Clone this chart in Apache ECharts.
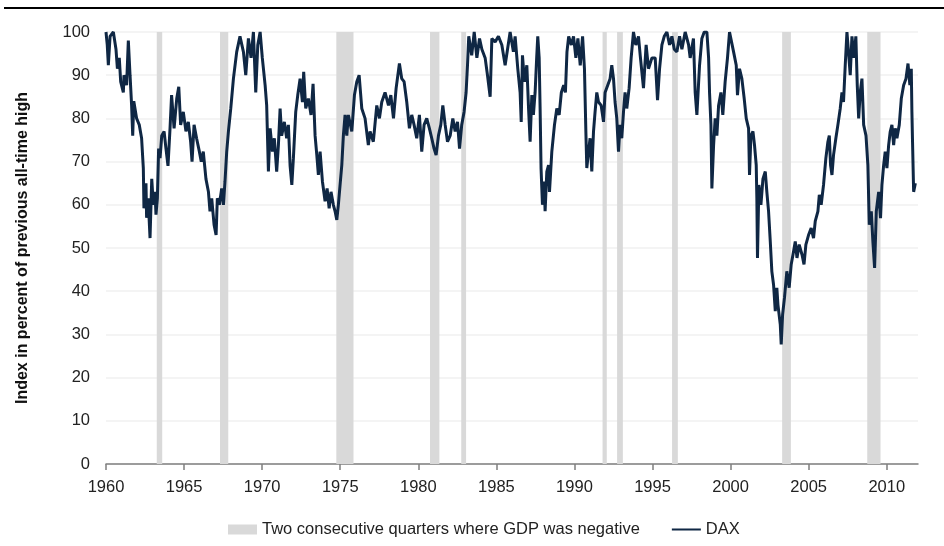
<html>
<head>
    <meta charset="utf-8">
    <script src="https://cdn.jsdelivr.net/npm/echarts@6/dist/echarts.min.js"></script>
</head>
<body style="margin:0">
<div id="main" style="width:944px;height:546px"></div>
<script>
    // DAX, index in percent of previous all-time high
    var daxYear = [
        1960.00, 1960.08, 1960.15, 1960.26, 1960.47, 1960.64, 1960.73, 1960.85, 1960.94, 1961.11,
        1961.15, 1961.32, 1961.43, 1961.54, 1961.64, 1961.71, 1961.78, 1961.96, 1962.13, 1962.28,
        1962.39, 1962.43, 1962.56, 1962.60, 1962.70, 1962.82, 1962.93, 1963.03, 1963.14, 1963.20,
        1963.29, 1963.37, 1963.46, 1963.57, 1963.72, 1963.84, 1963.97, 1964.10, 1964.20, 1964.36,
        1964.53, 1964.66, 1964.78, 1964.95, 1965.12, 1965.27, 1965.42, 1965.51, 1965.64, 1965.80,
        1965.98, 1966.10, 1966.23, 1966.40, 1966.56, 1966.66, 1966.77, 1966.92, 1967.05, 1967.13,
        1967.26, 1967.41, 1967.52, 1967.62, 1967.73, 1967.84, 1967.99, 1968.16, 1968.37,
        1968.58, 1968.80, 1968.95, 1969.12, 1969.29, 1969.44, 1969.59, 1969.72, 1969.87, 1970.01,
        1970.19, 1970.29, 1970.40, 1970.51, 1970.66, 1970.78, 1970.93, 1971.04, 1971.15, 1971.25,
        1971.42, 1971.57, 1971.68, 1971.79, 1971.90, 1972.00, 1972.15, 1972.28, 1972.43, 1972.58,
        1972.66, 1972.79, 1972.96, 1973.13, 1973.26, 1973.39, 1973.50, 1973.60, 1973.71, 1973.86,
        1974.03, 1974.16, 1974.29, 1974.41, 1974.56, 1974.67, 1974.78, 1974.88, 1974.99, 1975.10,
        1975.20, 1975.31, 1975.42, 1975.52, 1975.74, 1975.91, 1976.06, 1976.21, 1976.38, 1976.59,
        1976.80,
        1976.91, 1977.12, 1977.34, 1977.51, 1977.66, 1977.87, 1978.09, 1978.24, 1978.41, 1978.58,
        1978.79, 1978.94, 1979.09, 1979.26, 1979.43, 1979.58, 1979.73, 1979.90, 1980.07, 1980.22,
        1980.37, 1980.54, 1980.71, 1980.86, 1981.01, 1981.14, 1981.29, 1981.44, 1981.57, 1981.72,
        1981.87, 1982.04, 1982.21, 1982.36, 1982.51, 1982.64, 1982.78, 1982.93, 1983.06, 1983.15,
        1983.23, 1983.42, 1983.58, 1983.75, 1983.92, 1984.07, 1984.28, 1984.43, 1984.60, 1984.71,
        1984.92, 1985.13, 1985.35, 1985.56,
        1985.88, 1986.09, 1986.20, 1986.37, 1986.52, 1986.59, 1986.67, 1986.80, 1986.95, 1987.06,
        1987.16, 1987.27, 1987.37, 1987.48, 1987.58, 1987.65, 1987.74, 1987.80, 1987.86, 1987.95,
        1988.06, 1988.12, 1988.23, 1988.34, 1988.40, 1988.55, 1988.72, 1988.87, 1989.02, 1989.16,
        1989.31, 1989.42, 1989.52, 1989.63, 1989.80, 1989.94, 1990.09, 1990.22, 1990.37, 1990.52,
        1990.64, 1990.73, 1990.79, 1990.90, 1991.00, 1991.11, 1991.22, 1991.32, 1991.43, 1991.54,
        1991.71, 1991.86, 1991.96, 1992.13, 1992.28, 1992.39, 1992.50, 1992.60, 1992.71, 1992.82,
        1992.92, 1993.03, 1993.14, 1993.24, 1993.35, 1993.50, 1993.63, 1993.78, 1993.93, 1994.10,
        1994.21, 1994.42, 1994.59, 1994.74, 1994.96, 1995.17, 1995.32, 1995.45, 1995.60, 1995.75,
        1995.92, 1996.09, 1996.24, 1996.39, 1996.56, 1996.73, 1996.88, 1997.09, 1997.31, 1997.41,
        1997.62, 1997.73, 1997.84, 1998.01, 1998.16, 1998.31, 1998.48, 1998.59, 1998.65, 1998.74,
        1998.80, 1998.91, 1999.01, 1999.12, 1999.23, 1999.38, 1999.50, 1999.65, 1999.80, 1999.93,
        2000.02, 2000.19, 2000.36, 2000.44, 2000.57, 2000.72, 2000.87, 2001.00, 2001.15, 2001.21,
        2001.30, 2001.43, 2001.53, 2001.64, 2001.68, 2001.72, 2001.81, 2001.94, 2002.07, 2002.22,
        2002.32, 2002.43, 2002.54, 2002.64, 2002.75, 2002.86, 2002.96,
        2003.03, 2003.18, 2003.24, 2003.33, 2003.45, 2003.60, 2003.75, 2003.88, 2004.03, 2004.14,
        2004.25, 2004.39, 2004.57, 2004.70, 2004.82, 2004.99, 2005.16, 2005.31, 2005.42, 2005.59,
        2005.68, 2005.80, 2005.95, 2006.10, 2006.23, 2006.32, 2006.40, 2006.49, 2006.59, 2006.74,
        2006.87, 2007.02, 2007.13, 2007.23, 2007.34, 2007.45, 2007.55, 2007.66, 2007.77, 2007.90,
        2008.02, 2008.11, 2008.20, 2008.30, 2008.41, 2008.52, 2008.67, 2008.79, 2008.88, 2009.01,
        2009.11, 2009.22, 2009.33, 2009.48, 2009.60, 2009.69, 2009.80, 2009.90, 2010.01, 2010.12,
        2010.22, 2010.33, 2010.44, 2010.54, 2010.65, 2010.80, 2010.93, 2011.08, 2011.23, 2011.36,
        2011.48, 2011.57, 2011.61, 2011.65, 2011.72, 2011.83
    ];
    var daxValue = [
        100, 97, 92.3, 99, 100, 96, 91.5, 94, 88.5, 86,
        90, 87.7, 98, 90, 83, 76, 84, 80, 78.5, 75.4,
        68.5, 59.2, 65, 57, 61.5, 52.3, 66, 60, 63, 57.7,
        61.5, 73, 70.8, 76, 77, 73, 69, 77.7, 85.4, 77.7,
        84.6, 87.3, 78.5, 81.5, 77, 79.2, 74.6, 70, 78.5, 75.4,
        72.3, 70, 72.3, 66, 63, 58.5, 61.5, 55.4, 53, 61.5,
        60, 63.8, 60, 65.4, 72.3, 77, 82.3, 89.2, 95.4,
        99, 95.4, 90, 98.5, 94, 100, 86, 97, 100, 94,
        87.7, 83, 67.7, 77.7, 72.3, 75.4, 67.7, 73.8, 82.3, 76,
        79.2, 75.4, 78.5, 69, 64.6, 70.8, 81.5, 85.4, 89.2, 83.8,
        90.8, 82.3, 84.6, 80.8, 88, 76, 71.5, 66.9, 72.3, 65.4,
        60.8, 63.8, 59.2, 63, 60, 58.5, 56.5, 60, 64.6, 69.2,
        76, 80.8, 76, 80.8, 77, 85.4, 88.5, 90, 82.3, 80,
        73.8,
        77, 74.6, 83, 80, 83.8, 86, 83, 85.4, 80, 87,
        92.7, 89.2, 88.5, 83.8, 77.7, 80.8, 78.5, 75.4, 80.8, 72.3,
        78.5, 80, 77.7, 75.4, 73, 71.5, 76, 78.5, 83, 78.5,
        74.6, 76, 80, 77, 79.2, 73, 78.5, 81.5, 86, 92.3,
        99, 94.6, 100, 94, 98.5, 96, 94, 90, 85, 98.5,
        97.7, 99, 97, 92.3,
        100, 95.4, 99, 91.5, 86, 79.2, 94.6, 88.5, 92.3, 82.3,
        74.6, 85.4, 80.8, 86, 94, 99, 94, 82.3, 68.5, 60,
        65.4, 58.5, 67.7, 69.2, 63, 72.3, 78.5, 82.3, 80.8, 86,
        87.7, 86, 95.4, 99, 97, 99, 94, 98.5, 92.3, 99,
        91.5, 77, 68.5, 72.3, 75.4, 67.7, 77, 81.5, 86, 83.8,
        83, 79.2, 86, 87.7, 89.2, 92.3, 89.2, 83.8, 80, 72.3,
        78.5, 75.4, 81.5, 86, 82.3, 87, 94, 100, 97, 99,
        94.6, 87, 97, 91.5, 94, 94, 84.2, 91.5, 97, 99,
        100, 97, 99, 96, 95.4, 99, 96, 100, 97, 94,
        98.5, 86, 80.8, 92.3, 98.5, 100, 100, 94, 86, 78.5,
        63.8, 73.8, 80, 76, 83, 86, 80.8, 88.5, 94, 100,
        100, 95.4, 92.3, 85.4, 91.5, 89.2, 84.6, 80, 77.7, 66.9,
        76, 77, 73.8, 69.2, 61.5, 47.7, 64.6, 60, 66, 67.7,
        63, 58.5, 51.5, 44.6, 41.5, 35.4, 40.8,
        36.9, 32.3, 27.7, 34.6, 38.5, 44.6, 40.8, 46.2, 49.2, 51.5,
        47.7, 50.8, 48.5, 46.2, 50.8, 53, 54.6, 52.3, 56.2, 58.5,
        62.3, 60, 64.6, 70.8, 74.6, 76, 69.2, 66.9, 71.5, 75.4,
        78.5, 82.3, 86, 83.8, 92.3, 100, 95.4, 90, 99, 94,
        99, 87.7, 80, 86, 89.2, 78.5, 76, 69.2, 55.4, 58.5,
        51.5, 45.4, 58.5, 63, 56.9, 64.6, 69.2, 72.3, 68.5, 73.8,
        76.9, 78.5, 73.8, 77.7, 75.4, 78.5, 84.6, 87.7, 89.2, 92.7,
        87.7, 91.5, 81.5, 74.6, 63, 65
    ];

    // two consecutive quarters of negative GDP growth
    var recessionStart = [1963.25, 1967.3, 1974.75, 1980.75, 1982.75, 1991.8, 1992.73, 1996.25, 2003.3, 2008.75];
    var recessionEnd = [1963.6, 1967.83, 1975.85, 1981.35, 1983.06, 1992.07, 1993.1, 1996.62, 2003.86, 2009.6];

    var recessionName = 'Two consecutive quarters where GDP was negative';
    var font = '"Liberation Sans", Arial, sans-serif';
    var navy = '#0f2744';

    var chart = echarts.init(document.getElementById('main'));

    var daxData = [];
    for (var i = 0; i < daxYear.length; i++) {
        daxData.push([daxYear[i], daxValue[i]]);
    }

    var areas = [];
    for (var j = 0; j < recessionStart.length; j++) {
        areas.push([{xAxis: recessionStart[j]}, {xAxis: recessionEnd[j]}]);
    }

    var option = {
        animation: false,
        textStyle: {fontFamily: font},
        graphic: [{
            type: 'rect',
            shape: {x: 4, y: 7, width: 940, height: 2},
            style: {fill: '#000'}
        }],
        grid: {
            left: 106,
            right: 26,
            top: 32,
            bottom: 82
        },
        legend: {
            left: 228,
            top: 521,
            padding: 0,
            itemWidth: 29,
            itemHeight: 10,
            itemGap: 32,
            textStyle: {fontSize: 16.5, color: '#222', fontFamily: font},
            data: [
                {name: recessionName, icon: 'rect'},
                {name: 'DAX', icon: 'path://M0,0 L0,0 Z M0,4 L29,4 L29,6 L0,6 Z M0,10 L0,10 Z'}
            ],
            symbolKeepAspect: false
        },
        xAxis: {
            type: 'value',
            min: 1960,
            max: 2012,
            interval: 5,
            splitLine: {show: false},
            axisLine: {lineStyle: {color: '#7f7f7f', width: 1.5}},
            axisTick: {length: 6, lineStyle: {color: '#7f7f7f', width: 1.5}},
            axisLabel: {
                fontSize: 16.5,
                color: '#222',
                margin: 15,
                showMaxLabel: false,
                formatter: function (v) { return String(v); }
            }
        },
        yAxis: {
            type: 'value',
            min: 0,
            max: 100,
            interval: 10,
            name: 'Index in percent of previous all-time high',
            nameLocation: 'middle',
            nameGap: 75,
            nameTextStyle: {fontSize: 16, fontWeight: 'bold', color: '#111', fontFamily: font},
            axisLine: {show: false},
            axisTick: {show: false},
            splitLine: {lineStyle: {color: '#f0f0f0', width: 1.5}},
            axisLabel: {fontSize: 16.5, color: '#222', margin: 16}
        },
        series: [
            {
                name: recessionName,
                type: 'line',
                data: [],
                z: 1,
                itemStyle: {color: '#d9d9d9'},
                lineStyle: {color: '#d9d9d9'},
                markArea: {
                    silent: true,
                    itemStyle: {color: '#d9d9d9', opacity: 1},
                    data: areas
                }
            },
            {
                name: 'DAX',
                type: 'line',
                data: daxData,
                z: 3,
                symbol: 'none',
                showSymbol: false,
                color: navy,
                itemStyle: {color: navy},
                lineStyle: {color: navy, width: 3}
            }
        ]
    };

    chart.setOption(option);
</script>
</body>
</html>
